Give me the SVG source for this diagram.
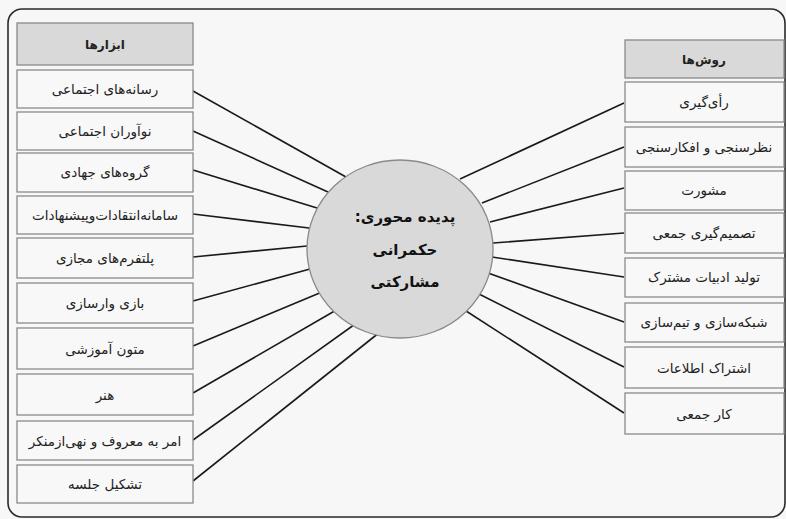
<svg xmlns="http://www.w3.org/2000/svg" width="786" height="519" viewBox="0 0 786 519">
<style>
.bg{fill:#f7f7f7}
.frame{fill:none;stroke:#2a2a2a;stroke-width:1.6}
.box{fill:#f8f8f8;stroke:#8a8a8a;stroke-width:1.3}
.head{fill:#d9d9d9;stroke:#8a8a8a;stroke-width:1.3}
.hub{fill:#d9d9d9;stroke:#8a8a8a;stroke-width:1.3}
.t{font-family:"DejaVu Sans",sans-serif;font-size:13.5px;fill:#222;text-anchor:middle;direction:rtl}
.th{font-family:"DejaVu Sans",sans-serif;font-size:12px;font-weight:bold;fill:#222;text-anchor:middle;direction:rtl}
.tc{font-family:"DejaVu Sans",sans-serif;font-size:15px;font-weight:bold;fill:#111;text-anchor:middle;direction:rtl}
#connectors line{stroke:#1a1a1a;stroke-width:1.6}
</style>
<rect class="bg" x="0" y="0" width="786" height="519"/>
<rect class="frame" x="8" y="9" width="777" height="508" rx="14"/>
<g id="connectors">
<line x1="193" y1="91" x2="346" y2="177"/>
<line x1="193" y1="131" x2="328" y2="192"/>
<line x1="193" y1="170" x2="317" y2="208"/>
<line x1="193" y1="214" x2="309" y2="228"/>
<line x1="193" y1="257" x2="307" y2="246"/>
<line x1="193" y1="301" x2="310" y2="269"/>
<line x1="193" y1="346" x2="322" y2="292"/>
<line x1="193" y1="393" x2="338" y2="309"/>
<line x1="193" y1="440" x2="358" y2="322"/>
<line x1="193" y1="481" x2="380" y2="332"/>
<line x1="460" y1="179" x2="624" y2="103"/>
<line x1="482" y1="203" x2="624" y2="147"/>
<line x1="490" y1="222" x2="624" y2="188"/>
<line x1="493" y1="243" x2="624" y2="233"/>
<line x1="492" y1="257" x2="624" y2="277"/>
<line x1="488" y1="273" x2="624" y2="322"/>
<line x1="477" y1="293" x2="624" y2="367"/>
<line x1="463" y1="309" x2="624" y2="413"/>
</g>
<g id="hub">
<ellipse class="hub" cx="400" cy="249" rx="93" ry="89"/>
<text class="tc" x="405" y="222">پدیده محوری:</text>
<text class="tc" x="405" y="255">حکمرانی</text>
<text class="tc" x="405" y="287">مشارکتی</text>
</g>
<g id="tools-header"><rect class="head" x="17" y="23" width="176" height="42"/><text class="th" x="105" y="49">ابزارها</text></g>
<g id="tool-1"><rect class="box" x="17" y="70" width="176" height="38"/><text class="t" x="105" y="94">رسانه‌های اجتماعی</text></g>
<g id="tool-2"><rect class="box" x="17" y="112" width="176" height="38"/><text class="t" x="105" y="136">نوآوران اجتماعی</text></g>
<g id="tool-3"><rect class="box" x="17" y="153" width="176" height="39"/><text class="t" x="105" y="177">گروه‌های جهادی</text></g>
<g id="tool-4"><rect class="box" x="17" y="196" width="176" height="38"/><text class="t" x="105" y="220">سامانه‌انتقادات‌وپیشنهادات</text></g>
<g id="tool-5"><rect class="box" x="17" y="238" width="176" height="40"/><text class="t" x="105" y="263">پلتفرم‌های مجازی</text></g>
<g id="tool-6"><rect class="box" x="17" y="283" width="176" height="40"/><text class="t" x="105" y="308">بازی وارسازی</text></g>
<g id="tool-7"><rect class="box" x="17" y="328" width="176" height="41"/><text class="t" x="105" y="354">متون آموزشی</text></g>
<g id="tool-8"><rect class="box" x="17" y="374" width="176" height="41"/><text class="t" x="105" y="400">هنر</text></g>
<g id="tool-9"><rect class="box" x="17" y="421" width="176" height="39"/><text class="t" x="105" y="446">امر به معروف و نهی‌ازمنکر</text></g>
<g id="tool-10"><rect class="box" x="17" y="465" width="176" height="38"/><text class="t" x="105" y="489">تشکیل جلسه</text></g>
<g id="methods-header"><rect class="head" x="625" y="40" width="159" height="38"/><text class="th" x="704" y="64">روش‌ها</text></g>
<g id="method-1"><rect class="box" x="625" y="82" width="159" height="40"/><text class="t" x="704" y="107">رأی‌گیری</text></g>
<g id="method-2"><rect class="box" x="625" y="127" width="159" height="40"/><text class="t" x="704" y="152">نظرسنجی و افکارسنجی</text></g>
<g id="method-3"><rect class="box" x="625" y="171" width="159" height="39"/><text class="t" x="704" y="195">مشورت</text></g>
<g id="method-4"><rect class="box" x="625" y="213" width="159" height="40"/><text class="t" x="704" y="238">تصمیم‌گیری جمعی</text></g>
<g id="method-5"><rect class="box" x="625" y="258" width="159" height="39"/><text class="t" x="704" y="282">تولید ادبیات مشترک</text></g>
<g id="method-6"><rect class="box" x="625" y="303" width="159" height="39"/><text class="t" x="704" y="327">شبکه‌سازی و تیم‌سازی</text></g>
<g id="method-7"><rect class="box" x="625" y="347" width="159" height="41"/><text class="t" x="704" y="373">اشتراک اطلاعات</text></g>
<g id="method-8"><rect class="box" x="625" y="393" width="159" height="41"/><text class="t" x="704" y="419">کار جمعی</text></g>
</svg>
